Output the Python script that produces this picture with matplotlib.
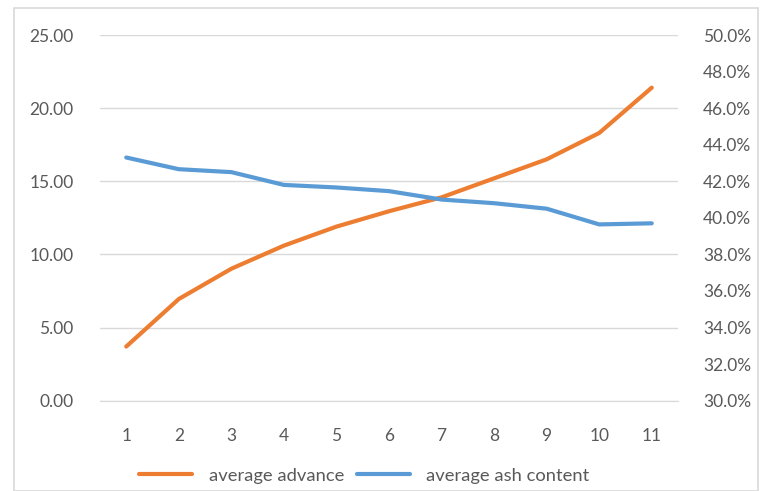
import matplotlib
matplotlib.use("Agg")
import matplotlib.pyplot as plt
from matplotlib.patches import Rectangle
from matplotlib.ticker import FuncFormatter

plt.rcParams['font.family'] = ['Lato', 'DejaVu Sans']

categories = [1, 2, 3, 4, 5, 6, 7, 8, 9, 10, 11]
avg_advance = [3.70, 6.95, 9.02, 10.6, 11.9, 12.95, 13.9, 15.2, 16.5, 18.3, 21.4]
avg_ash = [43.3, 42.66, 42.5, 41.8, 41.66, 41.46, 41.0, 40.8, 40.5, 39.64, 39.7]

orange = '#ED7D31'
blue = '#5B9BD5'
grey = '#595959'

fig = plt.figure(figsize=(7.62, 4.91), dpi=100)
ax = fig.add_axes([0.1312, 0.184, 0.7586, 0.7447])
ax2 = ax.twinx()

l1, = ax.plot(categories, avg_advance, color=orange, lw=3, solid_capstyle='round',
              label='average advance')
l2, = ax2.plot(categories, avg_ash, color=blue, lw=3, solid_capstyle='round',
               label='average ash content')

ax.set_xlim(0.5, 11.5)
ax.set_ylim(0, 25)
ax.set_yticks(range(0, 26, 5))
ax.yaxis.set_major_formatter(FuncFormatter(lambda v, p: f'{v:.2f}'))
ax2.set_ylim(30, 50)
ax2.set_yticks(range(30, 51, 2))
ax2.yaxis.set_major_formatter(FuncFormatter(lambda v, p: f'{v:.1f}%'))
ax.set_xticks(categories)

ax.grid(axis='y', color='#D9D9D9', lw=1)
ax.set_axisbelow(True)
for a in (ax, ax2):
    for s in a.spines.values():
        s.set_visible(False)
    a.tick_params(length=0, labelsize=12.5, colors=grey)
ax.spines['bottom'].set_visible(True)
ax.spines['bottom'].set_color('#D9D9D9')
ax.tick_params(axis='y', pad=19)
ax.tick_params(axis='x', pad=20)
ax2.tick_params(axis='y', pad=18)

fig.legend(handles=[l1, l2], loc='center', bbox_to_anchor=(0.478, 0.031), ncol=2,
           frameon=False, fontsize=13.2, handlelength=2.9, columnspacing=0.7,
           handletextpad=0.9, labelcolor=grey)

fig.patches.append(Rectangle((14 / 762, 0), 744 / 762, 483 / 491, transform=fig.transFigure,
                             fill=False, edgecolor='#D9D9D9', lw=1.2))

fig.savefig('out.png', dpi=100)
